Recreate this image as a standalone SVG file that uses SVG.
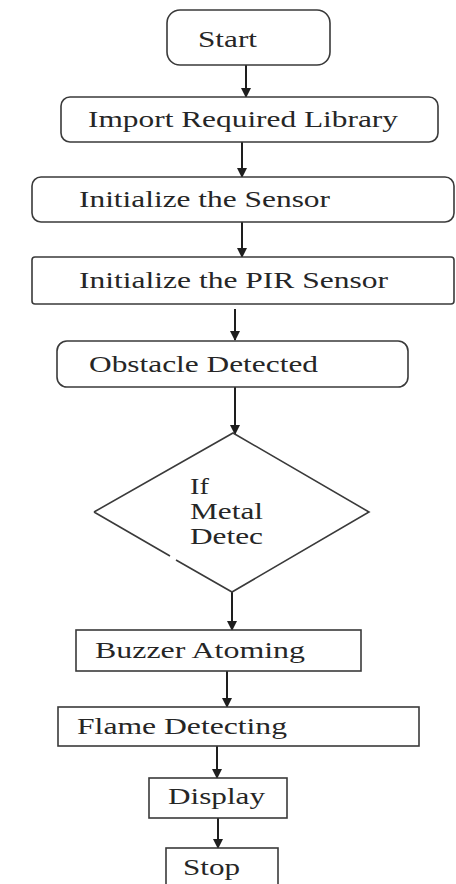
<svg xmlns="http://www.w3.org/2000/svg" width="456" height="884" viewBox="0 0 456 884">
  <style>
    .box { fill: #ffffff; stroke: #3a3a3a; stroke-width: 1.6; }
    .lbl { font-family: 'Liberation Serif', 'Times New Roman', serif; font-size: 23px; fill: #262626; }
    .flow { stroke: #1e1e1e; stroke-width: 2; fill: none; }
  </style>
  <defs>
    <marker id="head" markerUnits="userSpaceOnUse" markerWidth="10" markerHeight="10" refX="9" refY="5" orient="auto" viewBox="0 0 10 10">
      <path d="M0,0 L10,5 L0,10 Z" fill="#1e1e1e"/>
    </marker>
  </defs>

  <rect width="456" height="884" fill="#ffffff"/>

  <!-- connectors -->
  <g id="connectors">
    <line class="flow" x1="246" y1="65" x2="246" y2="97" marker-end="url(#head)"/>
    <line class="flow" x1="242" y1="142" x2="242" y2="177" marker-end="url(#head)"/>
    <line class="flow" x1="242" y1="222" x2="242" y2="257" marker-end="url(#head)"/>
    <line class="flow" x1="235" y1="309" x2="235" y2="340" marker-end="url(#head)"/>
    <line class="flow" x1="235" y1="387" x2="235" y2="434" marker-end="url(#head)"/>
    <line class="flow" x1="232" y1="592" x2="232" y2="630" marker-end="url(#head)"/>
    <line class="flow" x1="227" y1="671" x2="227" y2="707" marker-end="url(#head)"/>
    <line class="flow" x1="217" y1="746" x2="217" y2="778" marker-end="url(#head)"/>
    <line class="flow" x1="218" y1="818" x2="218" y2="848" marker-end="url(#head)"/>
  </g>

  <g id="start">
    <rect class="box" x="167" y="10" width="163" height="55" rx="13"/>
    <text class="lbl" x="198" y="47" textLength="59" lengthAdjust="spacingAndGlyphs">Start</text>
  </g>

  <g id="import-library">
    <rect class="box" x="61" y="97" width="377" height="45" rx="9"/>
    <text class="lbl" x="88" y="127" textLength="310" lengthAdjust="spacingAndGlyphs">Import Required Library</text>
  </g>

  <g id="init-sensor">
    <rect class="box" x="32" y="177" width="422" height="45" rx="9"/>
    <text class="lbl" x="79" y="207" textLength="251" lengthAdjust="spacingAndGlyphs">Initialize the Sensor</text>
  </g>

  <g id="init-pir">
    <rect class="box" x="32" y="257" width="422" height="47" rx="3"/>
    <text class="lbl" x="79" y="288" textLength="309" lengthAdjust="spacingAndGlyphs">Initialize the PIR Sensor</text>
  </g>

  <g id="obstacle">
    <rect class="box" x="57" y="341" width="351" height="46" rx="10"/>
    <text class="lbl" x="89" y="372" textLength="229" lengthAdjust="spacingAndGlyphs">Obstacle Detected</text>
  </g>

  <g id="metal-decision">
    <!-- outline with the small break on the lower-left edge -->
    <path class="box" fill="none" d="M94,512 L233,433 L369,512 L232,592 L176,560 M170,556 L94,512"/>
    <text class="lbl" x="190" y="494" textLength="19" lengthAdjust="spacingAndGlyphs">If</text>
    <text class="lbl" x="190" y="519" textLength="73" lengthAdjust="spacingAndGlyphs">Metal</text>
    <text class="lbl" x="190" y="544" textLength="73" lengthAdjust="spacingAndGlyphs">Detec</text>
  </g>

  <g id="buzzer">
    <rect class="box" x="76" y="630" width="285" height="41"/>
    <text class="lbl" x="95" y="658" textLength="210" lengthAdjust="spacingAndGlyphs">Buzzer Atoming</text>
  </g>

  <g id="flame">
    <rect class="box" x="58" y="707" width="361" height="39"/>
    <text class="lbl" x="77" y="734" textLength="210" lengthAdjust="spacingAndGlyphs">Flame Detecting</text>
  </g>

  <g id="display">
    <rect class="box" x="149" y="778" width="138" height="40"/>
    <text class="lbl" x="168" y="804" textLength="97" lengthAdjust="spacingAndGlyphs">Display</text>
  </g>

  <g id="stop">
    <rect class="box" x="166" y="848" width="112" height="50"/>
    <text class="lbl" x="183" y="875" textLength="57" lengthAdjust="spacingAndGlyphs">Stop</text>
  </g>
</svg>
